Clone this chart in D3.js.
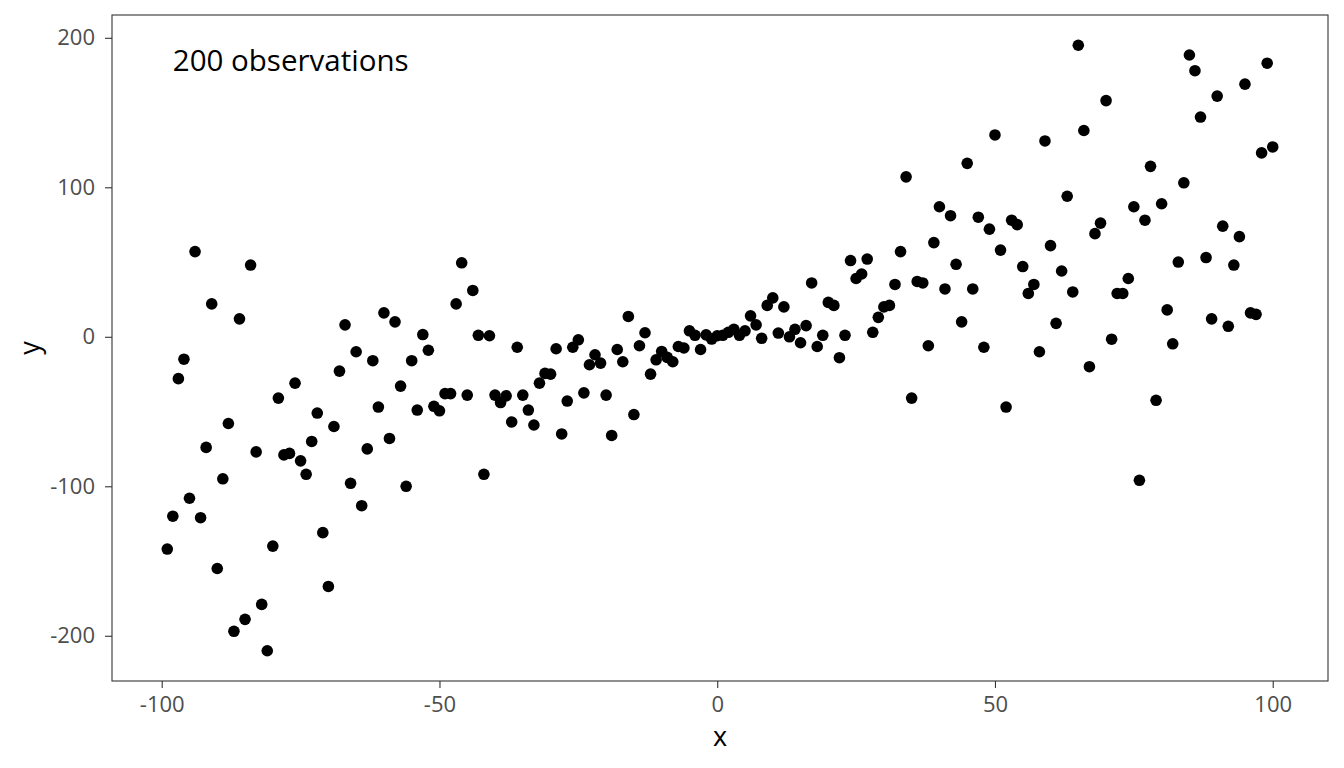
<!DOCTYPE html>
<html>
<head>
<meta charset="utf-8">
<script src="https://cdn.jsdelivr.net/npm/d3@7"></script>
<style>
  body { margin: 0; background: #fff; }
  svg text { font-family: "Open Sans", "Noto Sans", sans-serif; }
</style>
</head>
<body>
<div id="chart"></div>
<script>
// x positions of the observations
var xValues = [
  -99, -98, -97, -96, -95, -94, -93, -92, -91, -90, -89, -88, -87, -86, -85, -84, -83, -82, -81, -80,
  -79, -78, -77, -76, -75, -74, -73, -72, -71, -70, -69, -68, -67, -66, -65, -64, -63, -62, -61, -60,
  -59, -58, -57, -56, -55, -54, -53, -52, -51, -50, -49, -48, -47, -46, -45, -44, -43, -42, -41, -40,
  -39, -38, -37, -36, -35, -34, -33, -32, -31, -30, -29, -28, -27, -26, -25, -24, -23, -22, -21, -20,
  -19, -18, -17, -16, -15, -14, -13, -12, -11, -10, -9, -8, -7, -6, -5, -4, -3, -2, -1, 0,
  1, 2, 3, 4, 5, 6, 7, 8, 9, 10, 11, 12, 13, 14, 15, 16, 17, 18, 19, 20,
  21, 22, 23, 24, 25, 26, 27, 28, 29, 30, 31, 32, 33, 34, 35, 36, 37, 38, 39, 40,
  41, 42, 43, 44, 45, 46, 47, 48, 49, 50, 51, 52, 53, 54, 55, 56, 57, 58, 59, 60,
  61, 62, 63, 64, 65, 66, 67, 68, 69, 70, 71, 72, 73, 74, 75, 76, 77, 78, 79, 80,
  81, 82, 83, 84, 85, 86, 87, 88, 89, 90, 91, 92, 93, 94, 95, 96, 97, 98, 99, 100
];

// y values (same order as xValues)
var yValues = [
  -142, -120, -28, -15, -108, 57, -121, -74, 22, -155, -95, -58, -197, 12, -189, 48, -77, -179, -210, -140,
  -41, -79, -78, -31, -83, -92, -70, -51, -131, -167, -60, -23, 8, -98, -10, -113, -75, -16, -47, 16,
  -68, 10, -33, -100, -16, -49, 1.5, -9, -46.5, -49.5, -38, -38, 22, 49.5, -39, 31, 1, -92, 0.7, -39,
  -44, -39.5, -57, -7, -39, -49, -59, -31, -24.5, -25, -8, -65, -43, -7, -2, -37.5, -18.7, -12, -17.6, -39,
  -66, -8.5, -16.7, 13.6, -52, -6, 2.7, -25, -15.4, -9.8, -13.8, -16.7, -6.5, -7.5, 4, 1, -8.5, 1.3, -1.5, 0.7,
  1, 3, 5, 1, 4, 14, 8, -1, 21, 26, 2.5, 20, 0, 5, -4, 7.5, 36, -6.5, 1, 23,
  21, -14, 1, 51, 39, 42, 52, 3, 13, 20, 21, 35, 57, 107, -41, 37, 36, -6, 63, 87,
  32, 81, 48.5, 10, 116, 32, 80, -7, 72, 135, 58, -47, 78, 75, 47, 29, 35, -10, 131, 61,
  9, 44, 94, 30, 195, 138, -20, 69, 76, 158, -1.6, 29, 29, 39, 87, -96, 78, 114, -42.5, 89,
  18, -4.7, 50, 103, 188.5, 178, 147, 53, 12, 161, 74, 7, 48, 67, 169, 16, 15, 123, 183, 127
];

var xTicks = [-100, -50, 0, 50, 100];
var yTicks = [-200, -100, 0, 100, 200];
var annotationText = "200 observations";

var width = 1344, height = 768;
var margin = { top: 15, right: 16, bottom: 87, left: 112 };

var svg = d3.select("#chart").append("svg")
    .attr("width", width)
    .attr("height", height);

var plotW = width - margin.left - margin.right,
    plotH = height - margin.top - margin.bottom;

// ggplot style 5% expansion of the data range
function expand(ext) {
    var pad = (ext[1] - ext[0]) * 0.05;
    return [ext[0] - pad, ext[1] + pad];
}

var x = d3.scaleLinear()
    .domain(expand(d3.extent(xValues)))
    .range([margin.left, margin.left + plotW]);

var y = d3.scaleLinear()
    .domain(expand(d3.extent(yValues)))
    .range([margin.top + plotH, margin.top]);

var points = xValues.map(function (v, i) { return { x: v, y: yValues[i] }; });

// plain hyphen minus, like the original
var fmt = function (d) { return String(d); };

// axes
var xAxis = svg.append("g")
    .attr("transform", "translate(0," + (margin.top + plotH) + ")")
    .call(d3.axisBottom(x).tickValues(xTicks).tickFormat(fmt).tickSize(7).tickPadding(4));

var yAxis = svg.append("g")
    .attr("transform", "translate(" + margin.left + ",0)")
    .call(d3.axisLeft(y).tickValues(yTicks).tickFormat(fmt).tickSize(7).tickPadding(10));

[xAxis, yAxis].forEach(function (ax) {
    ax.select(".domain").remove();
    ax.selectAll(".tick line").attr("stroke", "#333333").attr("stroke-width", 1.1);
    ax.selectAll(".tick text")
        .attr("fill", "#4d4d4d")
        .style("font-size", "22px");
});

xAxis.selectAll(".tick text").attr("dy", null).attr("y", 31);

// points
svg.append("g")
    .selectAll("circle")
    .data(points)
    .enter().append("circle")
    .attr("cx", function (d) { return x(d.x); })
    .attr("cy", function (d) { return y(d.y); })
    .attr("r", 5.8)
    .attr("fill", "#000");

// panel border
svg.append("rect")
    .attr("x", margin.left)
    .attr("y", margin.top)
    .attr("width", plotW)
    .attr("height", plotH)
    .attr("fill", "none")
    .attr("stroke", "#333333")
    .attr("stroke-width", 1.1);

// annotation
svg.append("text")
    .attr("x", x(-98))
    .attr("y", y(177.5))
    .attr("fill", "#000")
    .style("font-size", "29.5px")
    .text(annotationText);

// axis titles
svg.append("text")
    .attr("x", margin.left + plotW / 2)
    .attr("y", 746)
    .attr("text-anchor", "middle")
    .attr("fill", "#000")
    .style("font-size", "27px")
    .text("x");

svg.append("text")
    .attr("transform", "translate(39," + (margin.top + plotH / 2) + ") rotate(-90)")
    .attr("text-anchor", "middle")
    .attr("fill", "#000")
    .style("font-size", "27px")
    .text("y");
</script>
</body>
</html>
